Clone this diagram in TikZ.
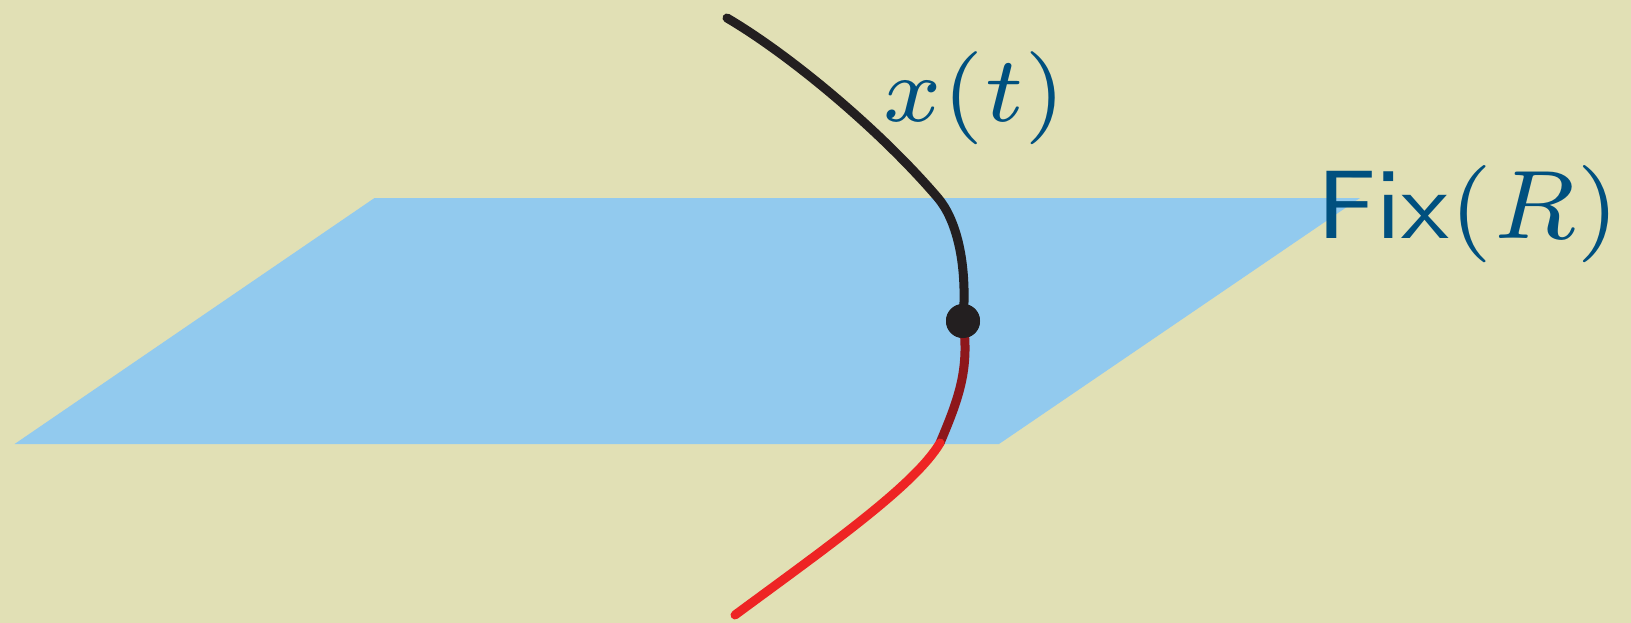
\documentclass[tikz,border=0pt]{standalone}
\usepackage{graphicx}
\definecolor{bgc}{HTML}{E1E0B5}
\definecolor{planec}{HTML}{92CAEE}
\definecolor{curveblack}{HTML}{231F20}
\definecolor{curvedark}{HTML}{8E171B}
\definecolor{curvered}{HTML}{EE2424}
\definecolor{labelc}{HTML}{00507F}
\newcommand{\biglbl}[2]{\scalebox{#1}{\scriptsize #2}}
\tikzset{
  curvepart/.style={line width=9pt},
  lbl/.style={text=labelc, inner sep=0pt, anchor=base},
  pt/.style={circle, fill=curveblack, minimum size=34pt, inner sep=0pt}
}
\begin{document}
\begin{tikzpicture}[x=1pt,y=-1pt]
\useasboundingbox (0,0) rectangle (1631,623);
\fill[bgc] (0,0) rectangle (1631,623);
\fill[planec] (14.6,444) -- (374.5,198) -- (1360,198) -- (999,444) -- cycle;
\node[pt] (p) at (963,321) {};
\coordinate (top) at (727,18);
\coordinate (cross) at (938,198);
\coordinate (edge) at (940,443);
\coordinate (bot) at (735,615);
\draw[curvepart, curveblack, line cap=round] (top) .. controls (790,55) and (880,130) .. (cross) .. controls (955,218) and (968,260) .. (p.center);
\draw[curvepart, curvedark] (p.center) .. controls (970,370) and (958,400) .. (edge);
\draw[curvepart, curvered, line cap=round] (edge) .. controls (915,485) and (830,545) .. (bot);
\node[pt] at (p) {};
\node[lbl] (xt) at (974,122) {\biglbl{13.3}{$x(t)$}};
\node[lbl] (fix) at (1469,238) {\biglbl{13.9}{$\mathsf{Fix}(R)$}};
\end{tikzpicture}
\end{document}
